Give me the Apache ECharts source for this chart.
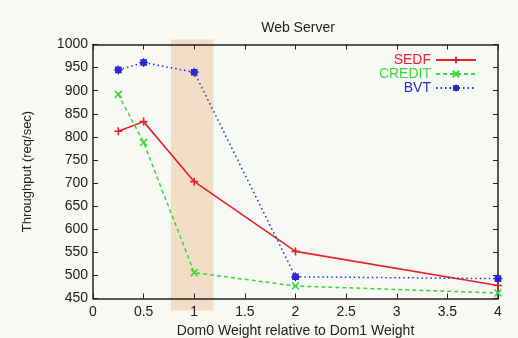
<!DOCTYPE html>
<html><head><meta charset="utf-8">
<script src="https://cdn.jsdelivr.net/npm/echarts@6/dist/echarts.min.js"></script>
<style>html,body{margin:0;padding:0;background:#f7f9f5}#c{width:518px;height:338px}</style>
</head><body><div id="c"></div>
<script>
var xValues = [0.25, 0.5, 1, 2, 4];
var sedf = [812, 833, 703, 552, 478];
var credit = [892, 788, 506, 477, 462];
var bvt = [945, 961, 940, 497, 493];
var seriesNames = ['SEDF', 'CREDIT', 'BVT'];
var seriesColors = ['#e8202a', '#3ad83a', '#2a2ad0'];
var highlight = [0.77, 1.19, 1011, 424];

function pairs(ys){ return xValues.map(function(x,i){return [x, ys[i]];}); }
var font = 'Liberation Sans, DejaVu Sans, sans-serif';
var chart = echarts.init(document.getElementById('c'));
var plus = 'path://M0,5L10,5M5,0L5,10';
var cross = 'path://M0,0L10,10M10,0L0,10';
var star = 'path://M5,0L5,10M0,5L10,5M1.5,1.5L8.5,8.5M8.5,1.5L1.5,8.5M2,2L8,2L8,8L2,8Z';
chart.setOption({
  backgroundColor: '#f7f9f5',
  animation: false,
  title: {text: 'Web Server', left: 293, top: 16, textAlign: 'center',
    textStyle: {fontFamily: font, fontSize: 14, fontWeight: 'normal', color: '#222'}},
  grid: {left: 93, right: 20, top: 44.5, bottom: 39.5, containLabel: false, outerBoundsMode: 'none'},
  legend: {
    orient: 'vertical', right: 36, top: 48, align: 'right', itemWidth: 40, itemHeight: 8, itemGap: 0,
    textStyle: {fontFamily: font, fontSize: 14, lineHeight: 13},
    data: seriesNames.map(function(n,i){return {name:n, textStyle:{color:seriesColors[i]}};})
  },
  xAxis: [{
    type: 'value', min: 0, max: 4, interval: 0.5,
    name: 'Dom0 Weight relative to Dom1 Weight', nameLocation: 'middle', nameGap: 25,
    nameTextStyle: {fontFamily: font, fontSize: 14, color: '#222'},
    axisLine: {show: true, onZero: false, lineStyle: {color: '#222', width: 1.5}},
    axisTick: {inside: true, length: 5, lineStyle: {color: '#222'}},
    axisLabel: {fontFamily: font, fontSize: 14, color: '#222', margin: 7},
    splitLine: {show: false}
  },{
    type: 'value', position: 'top', min: 0, max: 4, interval: 0.5,
    axisLine: {show: true, onZero: false, lineStyle: {color: '#222', width: 1.5}},
    axisTick: {inside: true, length: 5, lineStyle: {color: '#222'}},
    axisLabel: {show: false}, splitLine: {show: false}
  }],
  yAxis: [{
    type: 'value', min: 450, max: 1000, interval: 50,
    name: 'Throughput (req/sec)', nameLocation: 'middle', nameGap: 59,
    nameTextStyle: {fontFamily: font, fontSize: 13, color: '#222'},
    axisLine: {show: true, onZero: false, lineStyle: {color: '#222', width: 1.5}},
    axisTick: {inside: true, length: 5, lineStyle: {color: '#222'}},
    axisLabel: {fontFamily: font, fontSize: 14, color: '#222', margin: 5,
      formatter: function(v){ return String(v); }},
    splitLine: {show: false}
  },{
    type: 'value', position: 'right', min: 450, max: 1000, interval: 50,
    axisLine: {show: true, onZero: false, lineStyle: {color: '#222', width: 1.5}},
    axisTick: {inside: true, length: 5, lineStyle: {color: '#222'}},
    axisLabel: {show: false}, splitLine: {show: false}
  }],
  series: [{
    type: 'custom', silent: true, clip: false, z: 0,
    data: [highlight],
    renderItem: function(params, api){
      var p1 = api.coord([api.value(0), api.value(2)]);
      var p2 = api.coord([api.value(1), api.value(3)]);
      return {type: 'rect', shape: {x: p1[0], y: p1[1], width: p2[0]-p1[0], height: p2[1]-p1[1]},
        style: {fill: 'rgba(238,200,158,0.55)'}};
    }
  },{
    name: 'SEDF', type: 'line', data: pairs(sedf), color: seriesColors[0],
    symbol: plus, symbolSize: 8, showAllSymbol: true, clip: false,
    lineStyle: {width: 1.6, type: 'solid'},
    itemStyle: {color: seriesColors[0], borderColor: seriesColors[0], borderWidth: 1.6}
  },{
    name: 'CREDIT', type: 'line', data: pairs(credit), color: seriesColors[1],
    symbol: cross, symbolSize: 7, clip: false,
    lineStyle: {width: 1.5, type: [4, 3]},
    itemStyle: {color: seriesColors[1], borderColor: seriesColors[1], borderWidth: 1.6}
  },{
    name: 'BVT', type: 'line', data: pairs(bvt), color: seriesColors[2],
    symbol: star, symbolSize: 9, clip: false,
    lineStyle: {width: 1.5, type: [1.5, 3]},
    itemStyle: {color: seriesColors[2], borderColor: seriesColors[2], borderWidth: 1.2}
  }]
});
</script></body></html>
